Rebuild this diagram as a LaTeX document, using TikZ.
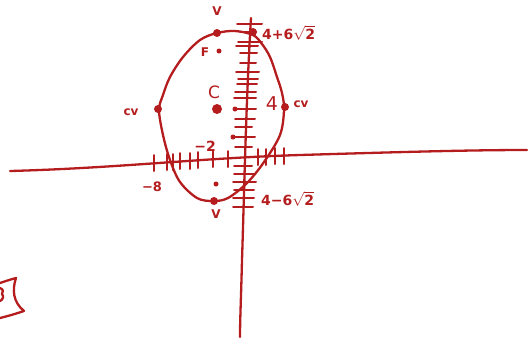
\documentclass[tikz,border=0pt]{standalone}
\usepackage{fontspec}
\setmainfont{DejaVu Sans}
\begin{document}
\begin{tikzpicture}[x=1pt,y=-1pt,
  ink/.style={draw=penred,line width=2.3pt,line cap=round,line join=round},
  tk/.style={draw=penred,line width=2pt,line cap=round},
  dotmark/.style={circle,fill=penred,inner sep=0pt,minimum size=8pt},
  smalldot/.style={circle,fill=penred,inner sep=0pt,minimum size=5pt},
  lab/.style={text=penred,font=\fontsize{12}{12}\selectfont\bfseries,inner sep=0pt}]
\definecolor{penred}{RGB}{180,28,30}
\useasboundingbox (0,0) rectangle (529,341);
% axes
\draw[ink] (10,171) .. controls (120,168) and (200,158) .. (300,155) .. controls (400,152) and (470,150) .. (527,150);
\draw[ink] (251,18) .. controls (246,100) and (244,200) .. (242,260) .. controls (241,300) and (240,320) .. (240,337);
% y ticks
\foreach \y/\xl/\xr in {24/237/262,32/240/256,42/238/262,46/236/258,53/240/257,63/240/256,72/236/259,79/238/258,84/237/257,92/235/256,98/234/256,109/234/256,119/235/255,127/235/252,137/234/255,147/235/252,166/234/252,174/234/254,182/233/256,190/234/254,198/233/254,207/233/253}{
  \draw[tk] (\xl,\y) -- (\xr,\y);}
% x ticks
\foreach \x/\yy in {154/163,167/162,173/162,180/161,190/161,198/160,213/159,228/159,258/157,266/157,275/156,284/156}{
  \draw[tk] (\x,\yy-8) -- (\x,\yy+8);}
% ellipse
\draw[ink] plot[smooth cycle,tension=0.55] coordinates {(217,33) (235,31) (253,35) (262,44) (270,57) (277,77) (282,93) (284,110) (280,135) (264,162) (247,183) (228,198) (213,201) (197,198) (180,182) (170,160) (163,135) (159,110) (163,95) (170,77) (183,57) (200,40)};
% points
\node[dotmark] (vtop) at (217,33) {};
\node[dotmark] (top6) at (253,32) {};
\node[smalldot] (f) at (219,51) {};
\node[dotmark,minimum size=10pt] (c) at (217,109) {};
\node[dotmark] (cvl) at (158,109) {};
\node[dotmark] (cvr) at (285,107) {};
\node[smalldot] (d1) at (235,109) {};
\node[smalldot] (d2) at (233,137) {};
\node[smalldot] (d3) at (216,184) {};
\node[dotmark] (vbot) at (214,201) {};
% labels
\node[lab] (lv1) at (217,11) {V};
\node[lab,anchor=west,font=\fontsize{14}{14}\selectfont\bfseries] (l46) at (262,33) {4+6$\sqrt{\mbox{2}}$};
\node[lab] (lf) at (205,52) {F};
\node[lab,font=\fontsize{17}{17}\selectfont] (lc) at (214,92) {C};
\node[lab] (lcvl) at (131,112) {cv};
\node[lab,font=\fontsize{19}{19}\selectfont] (l4) at (272,104) {4};
\node[lab] (lcvr) at (301,104) {cv};
\node[lab,font=\fontsize{14}{14}\selectfont\bfseries] (lm2) at (205,146) {−2};
\node[lab,font=\fontsize{13}{13}\selectfont\bfseries] (lm8) at (152,187) {−8};
\node[lab] (lv2) at (216,214) {V};
\node[lab,anchor=west,font=\fontsize{14}{14}\selectfont\bfseries] (l4m) at (261,199) {4−6$\sqrt{\mbox{2}}$};
% partial shape at bottom left
\draw[ink] (0,283) .. controls (6,281) and (12,279) .. (16,278)
  .. controls (12,290) and (13,302) .. (24,311)
  .. controls (15,314) and (8,316) .. (0,318);
\draw[ink] (0,288) .. controls (3,289) and (4,292) .. (2,294) .. controls (4,296) and (3,300) .. (0,301);
\end{tikzpicture}
\end{document}
